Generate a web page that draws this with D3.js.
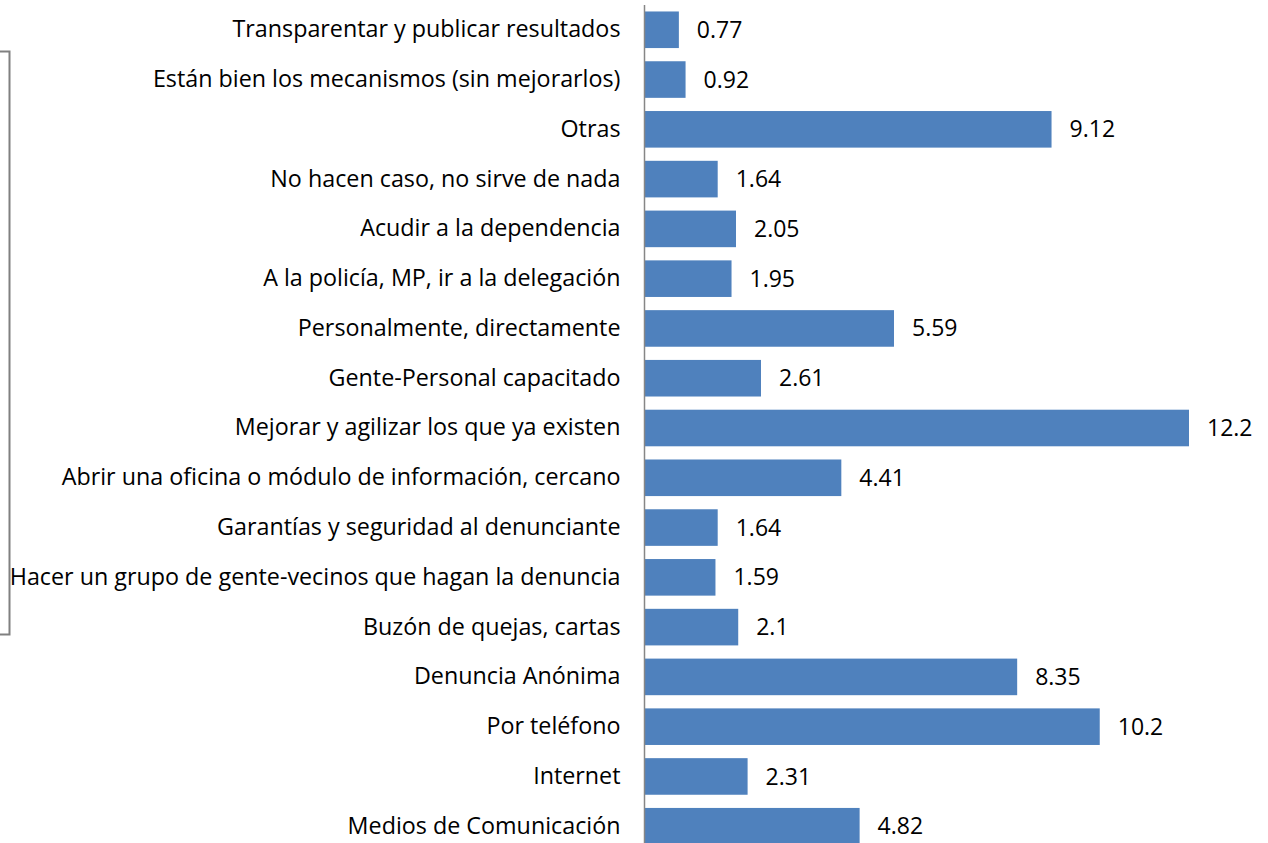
<!DOCTYPE html>
<html>
<head>
<meta charset="utf-8">
<script src="https://cdn.jsdelivr.net/npm/d3@7"></script>
<style>
  html, body { margin: 0; padding: 0; background: #fff; }
  svg { display: block; }
  text { font-family: "Open Sans", "Noto Sans", sans-serif; fill: #000; }
</style>
</head>
<body>
<svg id="chart" width="1268" height="843"></svg>
<script>
const categories = [
  "Transparentar y publicar resultados",
  "Están bien los mecanismos (sin mejorarlos)",
  "Otras",
  "No hacen caso, no sirve de nada",
  "Acudir a la dependencia",
  "A la policía, MP, ir a la delegación",
  "Personalmente, directamente",
  "Gente-Personal capacitado",
  "Mejorar y agilizar los que ya existen",
  "Abrir una oficina o módulo de información, cercano",
  "Garantías y seguridad al denunciante",
  "Hacer un grupo de gente-vecinos que hagan la denuncia",
  "Buzón de quejas, cartas",
  "Denuncia Anónima",
  "Por teléfono",
  "Internet",
  "Medios de Comunicación"
];
const values = [0.77, 0.92, 9.12, 1.64, 2.05, 1.95, 5.59, 2.61, 12.2, 4.41, 1.64, 1.59, 2.1, 8.35, 10.2, 2.31, 4.82];
const valueLabels = ["0.77", "0.92", "9.12", "1.64", "2.05", "1.95", "5.59", "2.61", "12.2", "4.41", "1.64", "1.59", "2.1", "8.35", "10.2", "2.31", "4.82"];

const svg = d3.select("#chart");
const x0 = 644.5;
const labelSize = 23.3;
const valueSize = 23;

const x = d3.scaleLinear().domain([0, 12.2]).range([x0, x0 + 544.5]);
const y = d3.scaleBand().domain(categories).range([5, 851]).paddingInner(0.265).paddingOuter(0.13);

// bracket on the left edge
svg.append("path")
  .attr("d", "M0,51.5 H9.5 V634.5 H0")
  .attr("fill", "none")
  .attr("stroke", "#808080")
  .attr("stroke-width", 2);

// bars
svg.append("g").selectAll("rect")
  .data(values)
  .join("rect")
  .attr("x", x(0))
  .attr("y", (d, i) => y(categories[i]))
  .attr("width", d => x(d) - x(0))
  .attr("height", y.bandwidth())
  .attr("fill", "#4F81BD");

// value labels
svg.append("g").selectAll("text")
  .data(values)
  .join("text")
  .attr("x", d => x(d) + 18)
  .attr("y", (d, i) => y(categories[i]) + y.bandwidth() / 2)
  .attr("dy", "0.35em")
  .attr("font-size", valueSize)
  .text((d, i) => valueLabels[i]);

// category axis
const axis = d3.axisLeft(y).tickSize(0).tickPadding(24);
const g = svg.append("g").attr("transform", `translate(${x0},0)`).call(axis);
g.select(".domain").attr("stroke", "#868686").attr("stroke-width", 1.5).attr("d", "M0,5V843");
g.selectAll("text")
  .attr("font-size", labelSize)
  .attr("font-family", "'Open Sans', 'Noto Sans', sans-serif")
  .attr("fill", "#000");
</script>
</body>
</html>
